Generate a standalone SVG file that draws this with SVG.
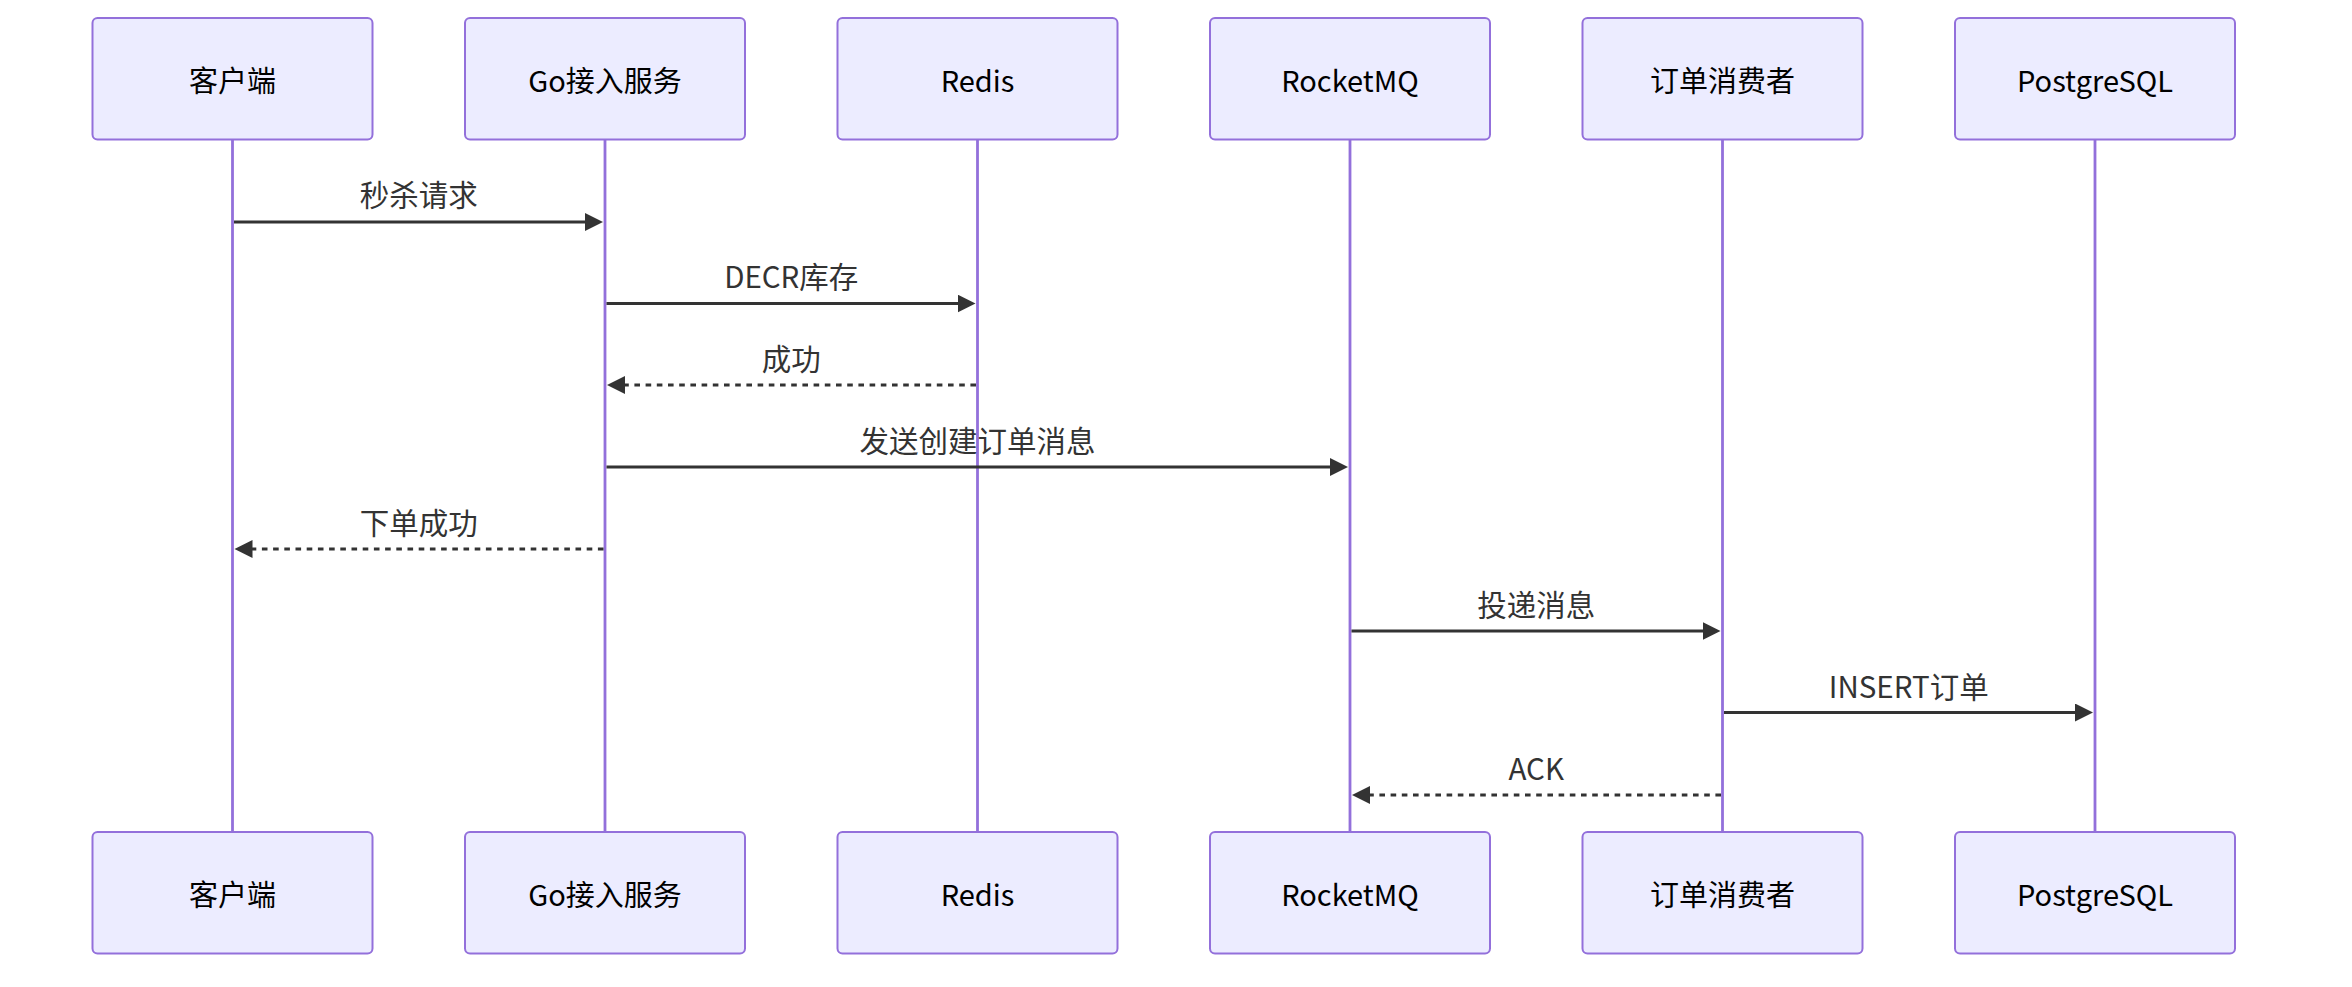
<svg xmlns="http://www.w3.org/2000/svg" width="2352" height="987" viewBox="0 0 2352 987">
<style>
.actor{fill:#ECECFF;stroke:#9370DB;stroke-width:2}
.atext{font-family:"Noto Sans CJK SC","Noto Sans",sans-serif;font-size:29px;fill:#000;text-anchor:middle;dominant-baseline:central}
.life{stroke:#9370DB;stroke-width:2.8}
.msg{stroke:#333;stroke-width:3;fill:none;marker-end:url(#arrow)}
.dash{stroke-dasharray:5.6 5.6}
.mtext{font-family:"Noto Sans CJK SC","Noto Sans",sans-serif;font-size:29.5px;fill:#333;text-anchor:middle;dominant-baseline:central}
</style>
<defs>
<marker id="arrow" markerUnits="userSpaceOnUse" markerWidth="20" markerHeight="20" refX="9" refY="9" orient="auto">
<path d="M0,0 L18,9 L0,18 z" fill="#333"/>
</marker>
</defs>
<rect width="2352" height="987" fill="#fff"/>
<g id="lifelines">
<line class="life" x1="232.5" y1="139.5" x2="232.5" y2="832"/>
<line class="life" x1="605" y1="139.5" x2="605" y2="832"/>
<line class="life" x1="977.5" y1="139.5" x2="977.5" y2="832"/>
<line class="life" x1="1350" y1="139.5" x2="1350" y2="832"/>
<line class="life" x1="1722.5" y1="139.5" x2="1722.5" y2="832"/>
<line class="life" x1="2095" y1="139.5" x2="2095" y2="832"/>
</g>
<g id="client">
<rect class="actor" x="92.5" y="18" width="280" height="121.5" rx="5"/>
<text class="atext" x="232.5" y="79">客户端</text>
<rect class="actor" x="92.5" y="832" width="280" height="121.5" rx="5"/>
<text class="atext" x="232.5" y="893">客户端</text>
</g>
<g id="go">
<rect class="actor" x="465" y="18" width="280" height="121.5" rx="5"/>
<text class="atext" x="605" y="79">Go接入服务</text>
<rect class="actor" x="465" y="832" width="280" height="121.5" rx="5"/>
<text class="atext" x="605" y="893">Go接入服务</text>
</g>
<g id="redis">
<rect class="actor" x="837.5" y="18" width="280" height="121.5" rx="5"/>
<text class="atext" x="977.5" y="79">Redis</text>
<rect class="actor" x="837.5" y="832" width="280" height="121.5" rx="5"/>
<text class="atext" x="977.5" y="893">Redis</text>
</g>
<g id="rocketmq">
<rect class="actor" x="1210" y="18" width="280" height="121.5" rx="5"/>
<text class="atext" x="1350" y="79">RocketMQ</text>
<rect class="actor" x="1210" y="832" width="280" height="121.5" rx="5"/>
<text class="atext" x="1350" y="893">RocketMQ</text>
</g>
<g id="consumer">
<rect class="actor" x="1582.5" y="18" width="280" height="121.5" rx="5"/>
<text class="atext" x="1722.5" y="79">订单消费者</text>
<rect class="actor" x="1582.5" y="832" width="280" height="121.5" rx="5"/>
<text class="atext" x="1722.5" y="893">订单消费者</text>
</g>
<g id="postgres">
<rect class="actor" x="1955" y="18" width="280" height="121.5" rx="5"/>
<text class="atext" x="2095" y="79">PostgreSQL</text>
<rect class="actor" x="1955" y="832" width="280" height="121.5" rx="5"/>
<text class="atext" x="2095" y="893">PostgreSQL</text>
</g>
<g id="connectors">
<line class="msg" x1="234" y1="222" x2="594" y2="222"/>
<text class="mtext" x="418.75" y="193">秒杀请求</text>
<line class="msg" x1="606.5" y1="303.5" x2="966.5" y2="303.5"/>
<text class="mtext" x="791.25" y="275">DECR库存</text>
<line class="msg dash" x1="976" y1="385" x2="616" y2="385"/>
<text class="mtext" x="791.25" y="357">成功</text>
<line class="msg" x1="606.5" y1="467" x2="1339" y2="467"/>
<text class="mtext" x="977.5" y="439">发送创建订单消息</text>
<line class="msg dash" x1="603.5" y1="549" x2="243.5" y2="549"/>
<text class="mtext" x="418.75" y="521">下单成功</text>
<line class="msg" x1="1351.5" y1="631" x2="1711.5" y2="631"/>
<text class="mtext" x="1536.25" y="603">投递消息</text>
<line class="msg" x1="1724" y1="712.5" x2="2084" y2="712.5"/>
<text class="mtext" x="1908.75" y="685">INSERT订单</text>
<line class="msg dash" x1="1721" y1="795" x2="1361" y2="795"/>
<text class="mtext" x="1536.25" y="767">ACK</text>
</g>
</svg>
